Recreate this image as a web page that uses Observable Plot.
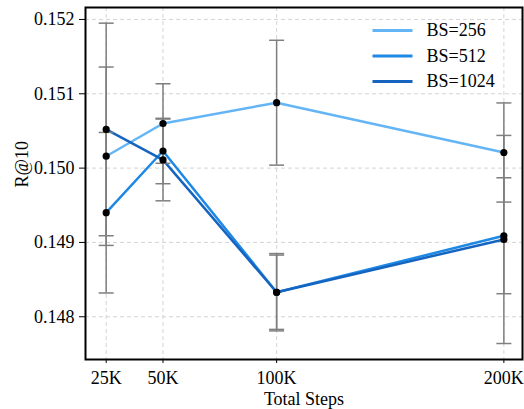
<!DOCTYPE html>
<html>
<head>
<meta charset="utf-8">
<script src="https://cdn.jsdelivr.net/npm/d3@7"></script>
<script src="https://cdn.jsdelivr.net/npm/@observablehq/plot@0.6"></script>
<style>
  html, body { margin: 0; padding: 0; background: #fff; }
  #chart svg, #chart svg text { font-family: "Liberation Serif", "DejaVu Serif", serif !important; }
</style>
</head>
<body>
<div id="chart"></div>
<script>
// Training steps (thousands) and recall@10 for each batch size, with error half-widths
const steps = [25, 50, 100, 200];
const seriesNames = ["BS=256", "BS=512", "BS=1024"];
const r256 = [0.15016, 0.15060, 0.15088, 0.15021];
const err256 = [0.00120, 0.000535, 0.00084, 0.000667];
const r512 = [0.14940, 0.15023, 0.14833, 0.14909];
const err512 = [0.00108, 0.00044, 0.00050, 0.00078];
const r1024 = [0.15052, 0.15011, 0.14833, 0.14904];
const err1024 = [0.00143, 0.00055, 0.00052, 0.00140];
const xTicks = [25, 50, 100, 200];
const yTicks = [0.148, 0.149, 0.150, 0.151, 0.152];

const colors = ["#64b5f6", "#1e88e5", "#1565c0"];
const values = [r256, r512, r1024];
const errors = [err256, err512, err1024];

const rows = seriesNames.flatMap((name, s) =>
  steps.map((x, i) => ({series: name, x, y: values[s][i], e: errors[s][i]}))
);

// horizontal stroke used for error-bar caps and legend swatches
const hbar = {
  draw(context, size) {
    const w = Math.sqrt(size / Math.PI);
    context.moveTo(-w, 0);
    context.lineTo(w, 0);
  }
};

const font = "Liberation Serif";
const fs = 18;

const legendMarks = seriesNames.flatMap((name, i) => [
  Plot.dot([name], {
    frameAnchor: "top-right", dx: -130, dy: 23 + i * 25.5,
    symbol: hbar, r: 20, stroke: colors[i], strokeWidth: 3, fill: "none"
  }),
  Plot.text([name], {
    frameAnchor: "top-right", dx: -96, dy: 23 + i * 25.5,
    text: d => d, textAnchor: "start", lineAnchor: "middle",
    fontSize: fs, fontFamily: font, fill: "black"
  })
]);

const chart = Plot.plot({
  width: 524,
  height: 409,
  marginLeft: 85,
  marginRight: 2,
  marginTop: 7,
  marginBottom: 50,
  style: `font-family: 'Liberation Serif', serif; font-size: ${fs}px; background: #fff; color: black;`,
  x: {type: "linear", domain: [15.9, 208.2]},
  y: {domain: [0.147425, 0.152161]},
  marks: [
    Plot.gridX(xTicks, {stroke: "#cfcfcf", strokeOpacity: 1, strokeDasharray: "4,3", strokeWidth: 0.9}),
    Plot.gridY(yTicks, {stroke: "#cfcfcf", strokeOpacity: 1, strokeDasharray: "4,3", strokeWidth: 0.9}),
    Plot.line(rows, {
      x: "x", y: "y", z: "series",
      stroke: d => colors[seriesNames.indexOf(d.series)],
      strokeWidth: 2.5
    }),
    Plot.ruleX(rows, {x: "x", y1: d => d.y - d.e, y2: d => d.y + d.e, stroke: "#7f7f7f", strokeWidth: 1.5}),
    Plot.dot(rows, {x: "x", y: d => d.y - d.e, symbol: hbar, r: 7.5, stroke: "#7f7f7f", strokeWidth: 1.5, fill: "none"}),
    Plot.dot(rows, {x: "x", y: d => d.y + d.e, symbol: hbar, r: 7.5, stroke: "#7f7f7f", strokeWidth: 1.5, fill: "none"}),
    Plot.dot(rows, {x: "x", y: "y", r: 3.6, fill: "black", stroke: "none"}),
    Plot.axisX({ticks: xTicks, tickFormat: d => d + "K", tickSize: 4, tickPadding: 8, fontSize: fs, fontFamily: font, label: null}),
    Plot.axisY({ticks: yTicks, tickFormat: d3.format(".3f"), tickSize: 6, tickPadding: 5, fontSize: fs, fontFamily: font, label: null}),
    Plot.text(["Total Steps"], {frameAnchor: "bottom", dy: 40, text: d => d, lineAnchor: "middle", fontSize: fs, fontFamily: font}),
    Plot.text(["R@10"], {frameAnchor: "left", dx: -63, dy: 4, text: d => d, rotate: -90, lineAnchor: "middle", fontSize: fs, fontFamily: font}),
    ...legendMarks,
    Plot.frame({stroke: "black", strokeWidth: 2})
  ]
});

document.getElementById("chart").appendChild(chart);
</script>
</body>
</html>
